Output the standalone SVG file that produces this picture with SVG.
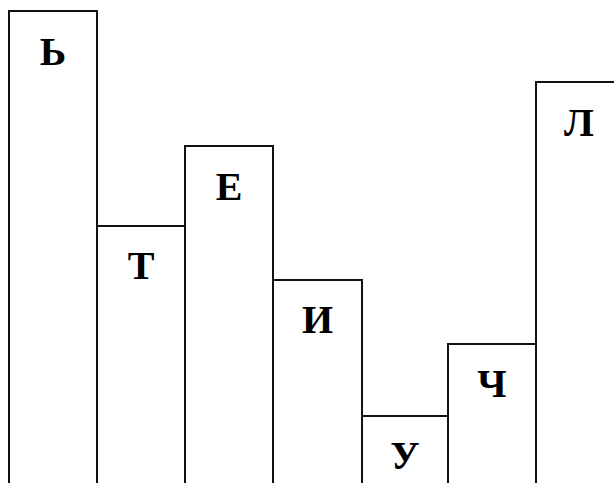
<svg xmlns="http://www.w3.org/2000/svg" width="614" height="483" viewBox="0 0 614 483">
<style>
.bar{fill:#fff;stroke:#111;stroke-width:2}
.lbl{font-family:"Liberation Serif","Times New Roman",serif;font-weight:bold;font-size:40px;fill:#000;text-anchor:middle}
</style>
<rect width="614" height="483" fill="#fff"/>
<g id="bar1"><rect class="bar" x="9" y="11" width="88" height="480"/><text class="lbl" x="53" y="65">Ь</text></g>
<g id="bar2"><rect class="bar" x="97" y="226" width="88" height="270"/><text class="lbl" x="141" y="279">Т</text></g>
<g id="bar3"><rect class="bar" x="185" y="146" width="88" height="350"/><text class="lbl" x="229" y="200">Е</text></g>
<g id="bar4"><rect class="bar" x="273" y="280" width="89" height="220"/><text class="lbl" x="317.5" y="333">И</text></g>
<g id="bar5"><rect class="bar" x="362" y="416" width="86" height="100"/><text class="lbl" x="405" y="469">У</text></g>
<g id="bar6"><rect class="bar" x="448" y="344" width="88" height="160"/><text class="lbl" x="492" y="397">Ч</text></g>
<g id="bar7"><rect class="bar" x="536" y="82" width="90" height="420"/><text class="lbl" x="579" y="136">Л</text></g>
<g id="connectors"/>
</svg>
